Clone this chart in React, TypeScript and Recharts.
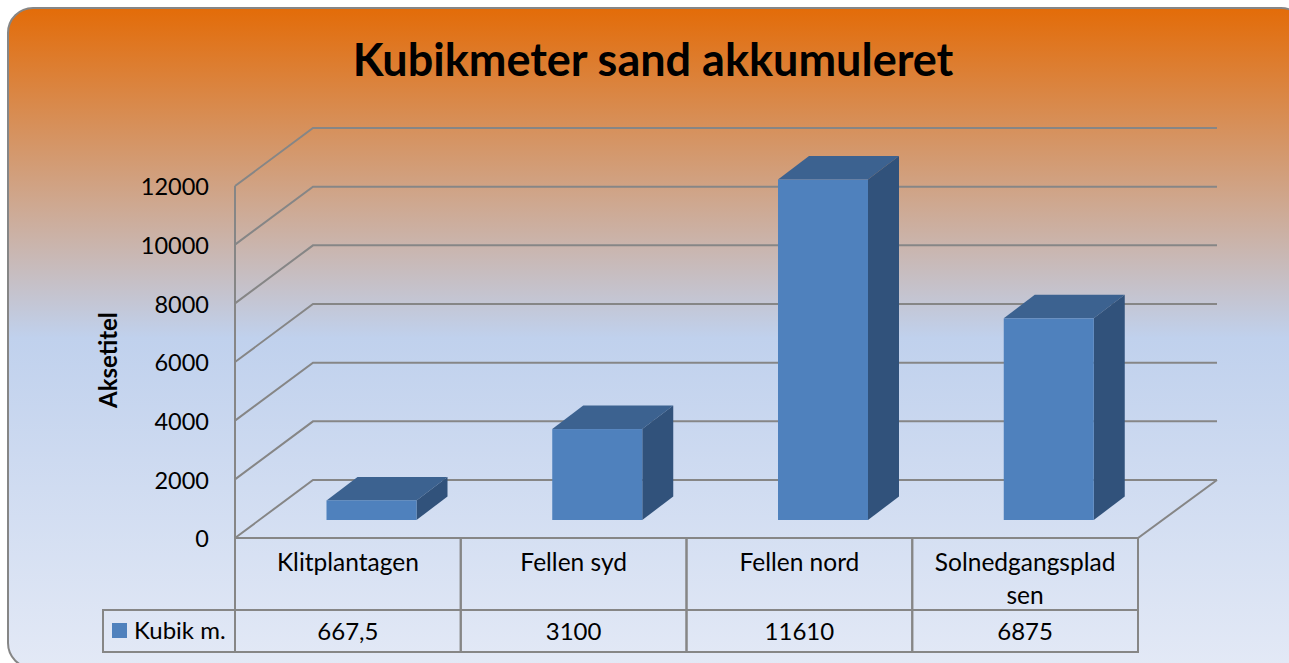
import { BarChart, Bar, XAxis, YAxis, CartesianGrid } from 'recharts';

const categories = ['Klitplantagen', 'Fellen syd', 'Fellen nord', 'Solnedgangspladsen'];
const kubikValues = [667.5, 3100, 11610, 6875];
const yTicks = [0, 2000, 4000, 6000, 8000, 10000, 12000];
const seriesName = 'Kubik m.';
const chartTitle = 'Kubikmeter sand akkumuleret';
const axisTitle = 'Aksetitel';

const chartData = categories.map((name, i) => ({ name, [seriesName]: kubikValues[i] }));

const FONT = 'Lato, sans-serif';
const LINE = '#868686';
const WIDTH = 1289;
const HEIGHT = 663;
const LEFT = 235; // front-left corner of the floor
const RIGHT = 1138;
const TOP = 186;
const BOTTOM = 538;
const BAND = (RIGHT - LEFT) / categories.length;
const WALL_DX = 78; // offset of the back wall
const WALL_DY = -58;

// wraps the way the table cell does it, at 15 chars
function wrapLabel(label: string) {
  const lines: string[] = [];
  for (let i = 0; i < label.length; i += 15) lines.push(label.slice(i, i + 15));
  return lines;
}

function GridLine(props: any) {
  const { x1, y1, x2, y2 } = props;
  const isFloor = Math.abs(y1 - BOTTOM) < 1;
  return (
    <g fill="none" stroke={LINE} strokeWidth={2}>
      <polyline points={`${x1},${y1} ${x1 + WALL_DX},${y1 + WALL_DY} ${x2 + WALL_DX + 1},${y2 + WALL_DY}`} />
      {isFloor && <polyline points={`${x1},${y1} ${x2},${y2} ${x2 + WALL_DX + 1},${y2 + WALL_DY}`} />}
    </g>
  );
}

function Bar3D(props: any) {
  const { x, y, width, height } = props;
  const shiftX = 23.5;
  const shiftY = -18;
  const dx = 31;
  const dy = -23.5;
  const l = x + shiftX;
  const r = l + width;
  const t = y + shiftY;
  const b = t + height;
  return (
    <g>
      <polygon points={`${l},${t} ${l + dx},${t + dy} ${r + dx},${t + dy} ${r},${t}`} fill="#3C6290" />
      <polygon points={`${r},${t} ${r + dx},${t + dy} ${r + dx},${b + dy} ${r},${b}`} fill="#31527B" />
      <rect x={l} y={t} width={width} height={height} fill="#4F81BD" />
    </g>
  );
}

function TableTick(props: any) {
  const { x, y, payload, index } = props;
  const left = x - BAND / 2;
  const lines = wrapLabel(String(payload.value));
  const value = String(kubikValues[index]).replace('.', ',');
  const textProps = { fontFamily: FONT, fontSize: 24, fill: '#000', dominantBaseline: 'central' as const };
  return (
    <g>
      <g fill="none" stroke={LINE} strokeWidth={2}>
        <rect x={left} y={y} width={BAND} height={72} />
        <rect x={left} y={y + 72} width={BAND} height={42} />
        {index === 0 && <rect x={103} y={y + 72} width={left - 103} height={42} />}
      </g>
      {lines.map((line, i) => (
        <text key={line} x={x} y={y + 23 + i * 33} textAnchor="middle" {...textProps} fontSize={24.5}>
          {line}
        </text>
      ))}
      <text x={x} y={y + 92} textAnchor="middle" {...textProps}>
        {value}
      </text>
      {index === 0 && (
        <g>
          <rect x={112} y={y + 85} width={15} height={15} fill="#4F81BD" />
          <text x={134} y={y + 91} {...textProps}>
            {seriesName}
          </text>
        </g>
      )}
    </g>
  );
}

export default function App() {
  return (
    <div style={{ position: 'absolute', left: 0, top: 0, width: WIDTH, height: HEIGHT, overflow: 'hidden', background: '#fff' }}>
      <div
        style={{
          position: 'absolute',
          left: 7,
          top: 7,
          width: 1300,
          height: 662,
          boxSizing: 'border-box',
          border: '2px solid #868686',
          borderRadius: 26,
          background: 'linear-gradient(180deg, #E36C09 0%, #C0D1ED 50%, #E3E9F6 100%)',
        }}
      />
      <div
        style={{
          position: 'absolute',
          left: 0,
          top: 31,
          width: 1306,
          textAlign: 'center',
          fontFamily: FONT,
          fontWeight: 700,
          fontSize: 45,
          lineHeight: '56px',
          color: '#000',
        }}
      >
        {chartTitle}
      </div>
      <div style={{ position: 'absolute', left: 0, top: 0 }}>
        <BarChart
          width={WIDTH}
          height={HEIGHT}
          data={chartData}
          margin={{ left: LEFT - 150, right: WIDTH - RIGHT, top: TOP, bottom: 0 }}
          barSize={90}
        >
          <CartesianGrid vertical={false} horizontal={(p: any) => <GridLine key={p.y1} {...p} />} />
          <XAxis
            dataKey="name"
            height={HEIGHT - BOTTOM}
            interval={0}
            axisLine={false}
            tickLine={false}
            tickSize={0}
            tickMargin={0}
            tick={(p: any) => <TableTick {...p} />}
          />
          <YAxis
            width={150}
            domain={[0, 12000]}
            ticks={yTicks}
            interval={0}
            tickLine={false}
            tickSize={0}
            tickMargin={26}
            axisLine={{ stroke: LINE, strokeWidth: 2 }}
            tick={{ fontFamily: FONT, fontSize: 23.5, fill: '#000', dy: 1 }}
            label={{
              value: axisTitle,
              angle: -90,
              position: 'insideLeft',
              dx: 18,
              dy: 46,
              style: { fontFamily: FONT, fontSize: 24, fontWeight: 700, fill: '#000' },
            }}
          />
          <Bar dataKey={seriesName} shape={<Bar3D />} isAnimationActive={false} />
        </BarChart>
      </div>
    </div>
  );
}
